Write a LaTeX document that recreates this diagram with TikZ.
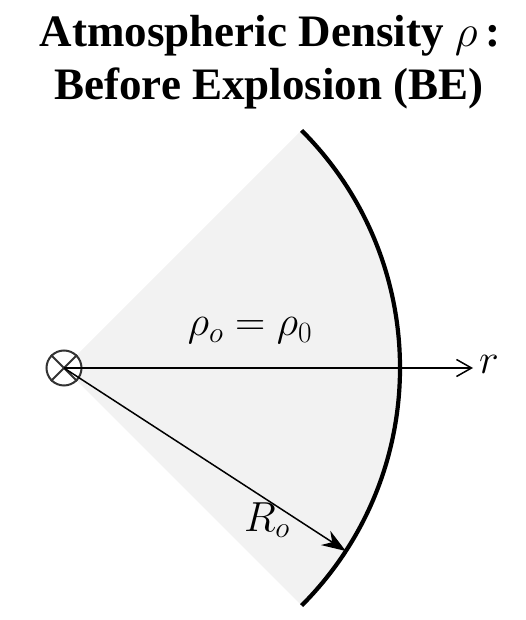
\RequirePackage{fix-cm}
\documentclass[tikz,border=0pt]{standalone}
\usepackage[no-math]{fontspec}
\setmainfont{Liberation Serif}
\usetikzlibrary{arrows.meta,calc}
\definecolor{wedgegray}{HTML}{F2F2F2}
\definecolor{markgray}{HTML}{333333}
\begin{document}
\begin{tikzpicture}[x=1pt,y=1pt,
  titletext/.style={font=\fontsize{45}{54}\selectfont\bfseries, anchor=base, inner sep=0pt},
  mathlabel/.style={font=\fontsize{42}{50}\selectfont, inner sep=0pt},
  thinline/.style={line width=1.5pt, black},
  rim/.style={line width=4.2pt, black},
  origin/.style={circle, draw=markgray, line width=2pt, minimum size=35pt, inner sep=0pt, fill=white}
]
\useasboundingbox (0,0) rectangle (525,620);
\coordinate (O) at (64,252);
\coordinate (Top) at ($(O)+(45:336)$);
\coordinate (Rend) at ($(O)+(-33:336)$);
\coordinate (Rtip) at (473,252);
% wedge
\fill[wedgegray] (O) -- (Top) arc[start angle=45, end angle=-45, radius=336] -- cycle;
% rim
\draw[rim] (Top) arc[start angle=45, end angle=-45, radius=336];
% origin mark
\node[origin] (c) at (O) {};
\draw[markgray, line width=2pt] (c.45) -- (c.225) (c.135) -- (c.315);
% axis
\draw[thinline, -{Straight Barb[length=15pt,width=17pt,line width=1.5pt]}] (O) -- (Rtip);
% radius arrow
\draw[thinline, -{Stealth[length=24pt,width=17pt]}] (O) -- (Rend);
% labels
\node[mathlabel] (rho) at (250,289) {$\rho_o = \rho_0$};
\node[mathlabel] (R) at (267,100) {$R_o$};
\node[mathlabel] (r) at (489,256) {$r$};
% title
\node[titletext] (t1) at (270,573) {Atmospheric Density \mdseries$\rho$\bfseries\,:};
\node[titletext] (t2) at (269,520) {Before Explosion (BE)};
\end{tikzpicture}
\end{document}
